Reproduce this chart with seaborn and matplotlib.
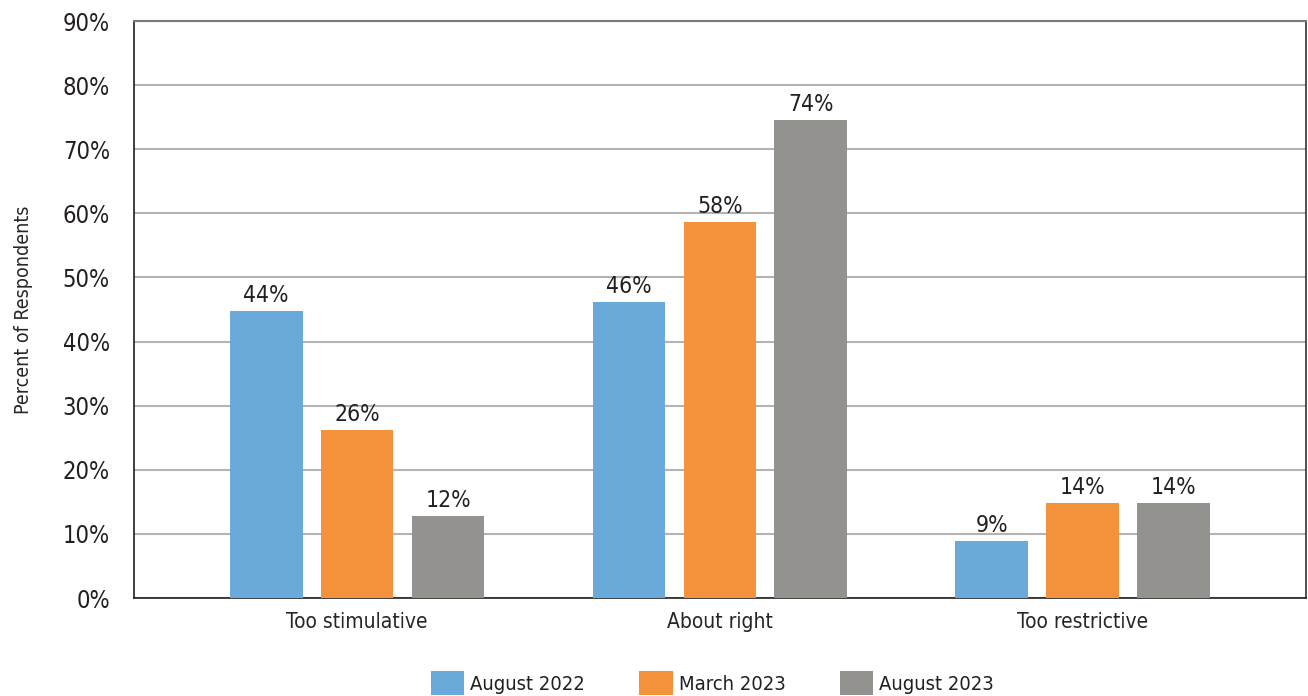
import matplotlib
matplotlib.use('Agg')
import matplotlib.pyplot as plt
import pandas as pd
import seaborn as sns

categories = ['Too stimulative', 'About right', 'Too restrictive']
periods = ['August 2022', 'March 2023', 'August 2023']
# bar heights (percent)
aug_2022 = [44.8, 46.2, 8.9]
mar_2023 = [26.2, 58.6, 14.8]
aug_2023 = [12.8, 74.5, 14.8]
# printed labels
aug_2022_labels = ['44%', '46%', '9%']
mar_2023_labels = ['26%', '58%', '14%']
aug_2023_labels = ['12%', '74%', '14%']
colors = ['#6aaadb', '#f4923c', '#93928e']

rows = []
for period, vals in zip(periods, [aug_2022, mar_2023, aug_2023]):
    for cat, v in zip(categories, vals):
        rows.append({'Category': cat, 'Period': period, 'Percent': v})
df = pd.DataFrame(rows)

sns.set_style('white')
plt.rcParams['font.family'] = ['DejaVu Sans']
plt.rcParams['font.stretch'] = 'condensed'
plt.rcParams['text.color'] = '#231f20'
plt.rcParams['ytick.color'] = '#231f20'

fig = plt.figure(figsize=(13.08, 6.96), dpi=100)
ax = fig.add_axes([0.1024, 0.1408, 0.896, 0.829])

sns.barplot(data=df, x='Category', y='Percent', hue='Period',
            palette=colors, width=0.752, gap=0.2, saturation=1,
            linewidth=0, ax=ax, zorder=3, legend=True)

ax.set_ylim(0, 90)
ax.set_xlim(-0.615, 2.615)
ax.set_yticks(range(0, 91, 10))
ax.set_yticklabels([f'{v}%' for v in range(0, 91, 10)], fontsize=17)
ax.tick_params(axis='y', length=11.5, width=1.2, color='#231f20', pad=5.8)
ax.tick_params(axis='x', length=0, labelsize=15, pad=10)
ax.grid(axis='y', color='#b3b3b3', linewidth=1.5, zorder=0)
ax.set_axisbelow(True)
ax.set_xlabel('')
ax.set_ylabel('Percent of Respondents', fontsize=14, labelpad=21)

ax.spines['top'].set_color('#7a7a7a')
ax.spines['top'].set_linewidth(1.5)
ax.spines['right'].set_color('#333333')
ax.spines['right'].set_linewidth(1.2)
for side in ['left', 'bottom']:
    ax.spines[side].set_color('#231f20')
    ax.spines[side].set_linewidth(1.2)

for container, labels in zip(ax.containers, [aug_2022_labels, mar_2023_labels, aug_2023_labels]):
    ax.bar_label(container, labels=labels, padding=3, fontsize=16.5)

handles, labels = ax.get_legend_handles_labels()
ax.get_legend().remove()
fig.legend(handles, labels, loc='center', bbox_to_anchor=(0.5448, 0.0187),
           ncol=3, frameon=False, fontsize=14.5, handlelength=1.65,
           handleheight=1.45, handletextpad=0.3, columnspacing=2.7)

fig.savefig('out.png', dpi=100)
